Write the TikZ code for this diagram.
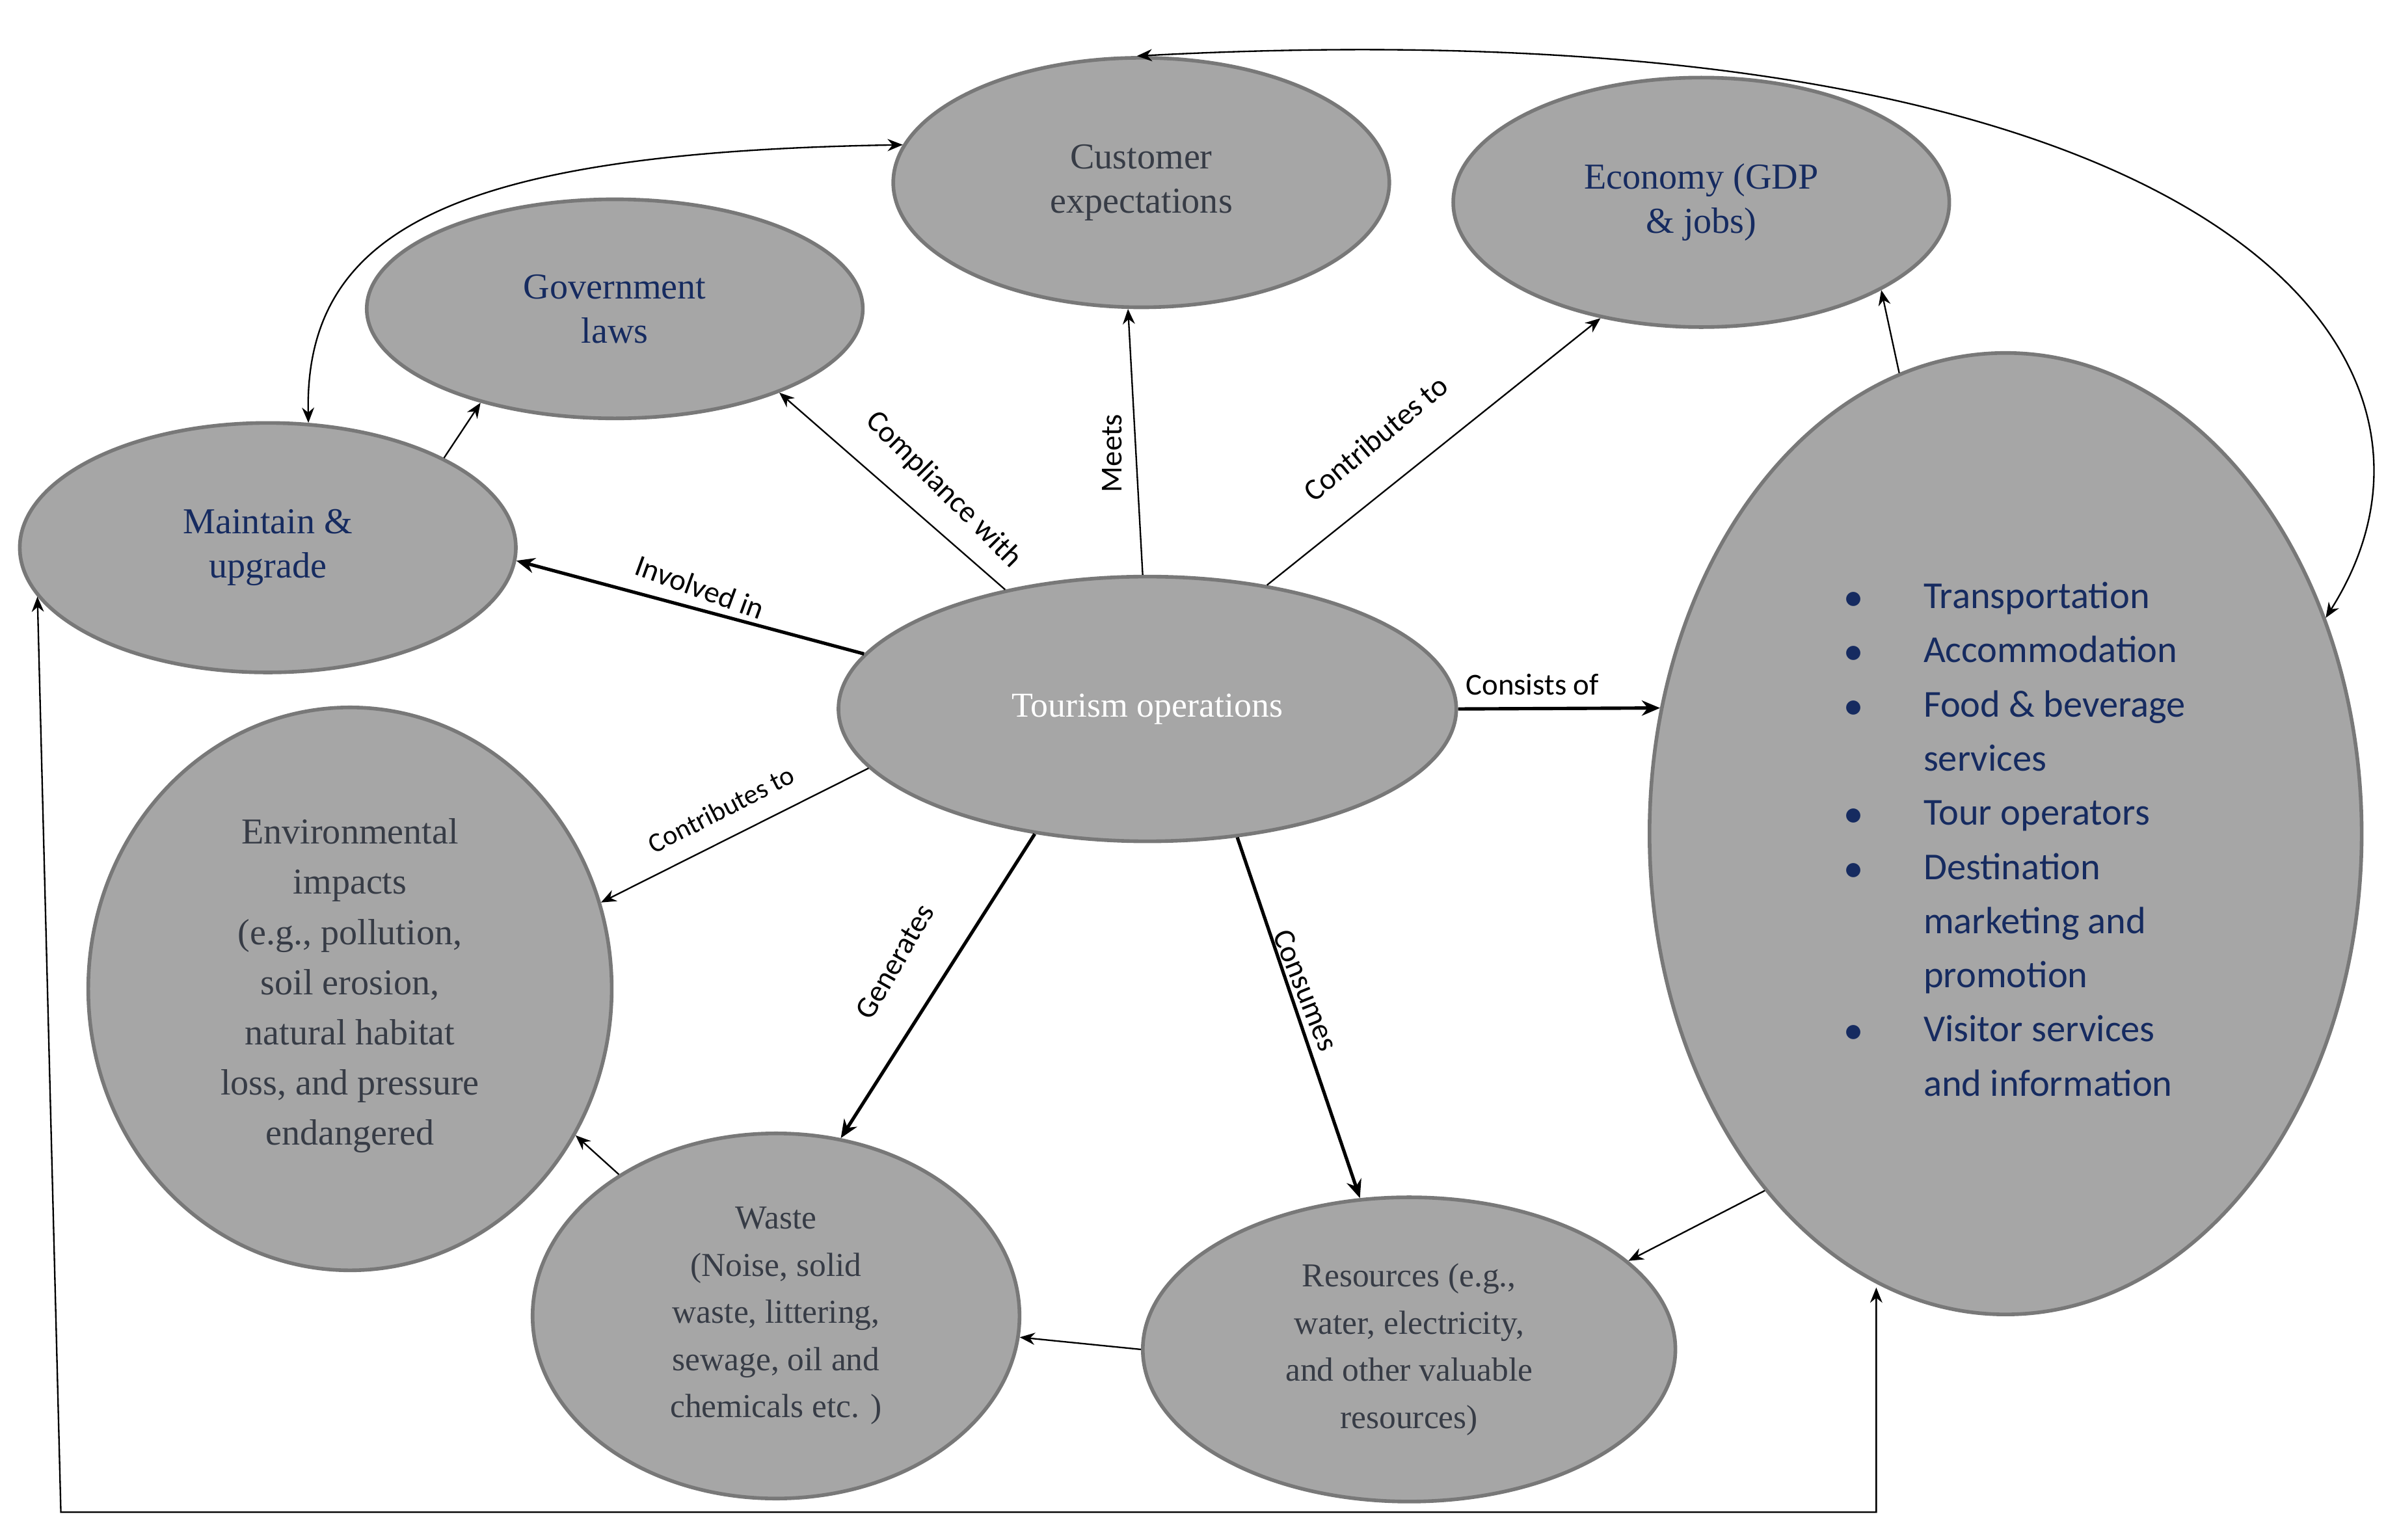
\documentclass[tikz,border=0pt]{standalone}
\usepackage{fontspec}
\setmainfont{Liberation Serif}
\newfontfamily\labfont{Carlito}
\usetikzlibrary{shapes.geometric,arrows.meta}
\definecolor{ovalfill}{RGB}{166,166,166}
\definecolor{ovaldraw}{RGB}{120,120,120}
\definecolor{navytext}{RGB}{22,43,96}
\definecolor{greytext}{RGB}{55,60,70}
\tikzset{
  oval/.style={ellipse, draw=ovaldraw, line width=1.2pt, fill=ovalfill, align=center, font=\fontsize{12}{14.5}\selectfont, inner sep=0pt},
  thin arrow/.style={-{Stealth[length=5pt,width=4pt]}, line width=0.5pt},
  thick arrow/.style={-{Stealth[length=6pt,width=5pt]}, line width=1.1pt},
  both tips/.style={{Stealth[length=5pt,width=4pt]}-{Stealth[length=5pt,width=4pt]}},
  lab/.style={font=\labfont\fontsize{10}{11}\selectfont, inner sep=1pt}
}
\begin{document}
\begin{tikzpicture}[x=0.5pt,y=0.5pt,yscale=-1]
\useasboundingbox (0,0) rectangle (1568,1012);

%ovals
\node[oval, minimum width=163pt, minimum height=82pt, text=greytext] (cust) at (750,120) {Customer\\expectations};
\node[oval, minimum width=163pt, minimum height=82pt, text=navytext] (econ) at (1118,133) {Economy (GDP\\\& jobs)};
\node[oval, minimum width=163pt, minimum height=72pt, text=navytext] (gov) at (404,203) {Government\\laws};
\node[oval, minimum width=163pt, minimum height=82pt, text=navytext] (maint) at (176,360) {Maintain \&\\upgrade};
\node[oval, minimum width=203pt, minimum height=87pt, text=white, font=\fontsize{11.5}{13}\selectfont] (tour) at (754,466) {Tourism operations};
\node[oval, minimum width=234pt, minimum height=316pt] (list) at (1318,548) {};
\node[oval, minimum width=172pt, minimum height=185pt, text=greytext] (env) at (230,650) {};
\node[text=greytext, align=center, font=\fontsize{12}{16.5}\selectfont] (envtext) at (230,648) {Environmental\\impacts\\(e.g., pollution,\\soil erosion,\\natural habitat\\loss, and pressure\\endangered};
\node[oval, minimum width=160pt, minimum height=120pt, text=greytext, font=\fontsize{11}{15.5}\selectfont] (waste) at (510,865) {Waste\\(Noise, solid\\waste, littering,\\sewage, oil and\\chemicals etc. )};
\node[oval, minimum width=175pt, minimum height=100pt, text=greytext, font=\fontsize{11}{15.5}\selectfont] (res) at (926,887) {Resources (e.g.,\\water, electricity,\\and other valuable\\resources)};

%list inside the big oval
\node[text=navytext, align=left, font=\labfont\fontsize{12.5}{17.8}\selectfont, anchor=north west] (items) at (1205,368) {%
\begin{tabular}{@{}l@{\hspace{20pt}}l@{}}
$\bullet$ & Transportation\\
$\bullet$ & Accommodation\\
$\bullet$ & Food \& beverage\\
 & services\\
$\bullet$ & Tour operators\\
$\bullet$ & Destination\\
 & marketing and\\
 & promotion\\
$\bullet$ & Visitor services\\
 & and information
\end{tabular}};

%arrows from tourism operations
\draw[thick arrow] (tour.169) -- (maint.-3);
\draw[thin arrow] (tour.140) -- (gov.-27);
\draw[thin arrow] (tour.92) -- (cust.-96);
\draw[thin arrow] (tour.46) -- (econ.-131);
\draw[thick arrow] (tour.0) -- (list.160);
\draw[thin arrow] (tour.-168) -- (env.19);
\draw[thick arrow] (tour.-132) -- (waste.70);
\draw[thick arrow] (tour.-55) -- (res.108);

%labels
\node[lab, rotate=-20] (linv) at (460,386) {Involved in};
\node[lab, rotate=-45] (lcomp) at (620,322) {Compliance with};
\node[lab, rotate=90] (lmeet) at (731,298) {Meets};
\node[lab, rotate=40] (lcontr) at (904,288) {Contributes to};
\node[lab] (lcons) at (1007,450) {Consists of};
\node[lab, rotate=27, font=\labfont\fontsize{9}{10}\selectfont] (lenv) at (474,532) {Contributes to};
\node[lab, rotate=60] (lgen) at (588,632) {Generates};
\node[lab, rotate=-68] (lcon) at (858,651) {Consumes};

%other links
\draw[thin arrow] (res.180) -- (waste.-5);
\draw[thin arrow] (waste.138) -- (env.-33);
\draw[thin arrow] (list.-124) -- (res.22);
\draw[thin arrow] (list.103) -- (econ.-26);
\draw[thin arrow] (maint.27) -- (gov.-145);
\draw[thin arrow, both tips] (maint.72) .. controls (200,150) and (300,100) .. (cust.171);
\draw[thin arrow, both tips] (list.34) .. controls (1640,230) and (1450,0) .. (cust.92);

%bottom loop
\coordinate (loopL) at (40,994);
\coordinate (loop) at (1233,994);
\draw[thin arrow, both tips] (maint.-168) -- (loopL) -- (loop) -- (loop |- list.-105);
\end{tikzpicture}
\end{document}
